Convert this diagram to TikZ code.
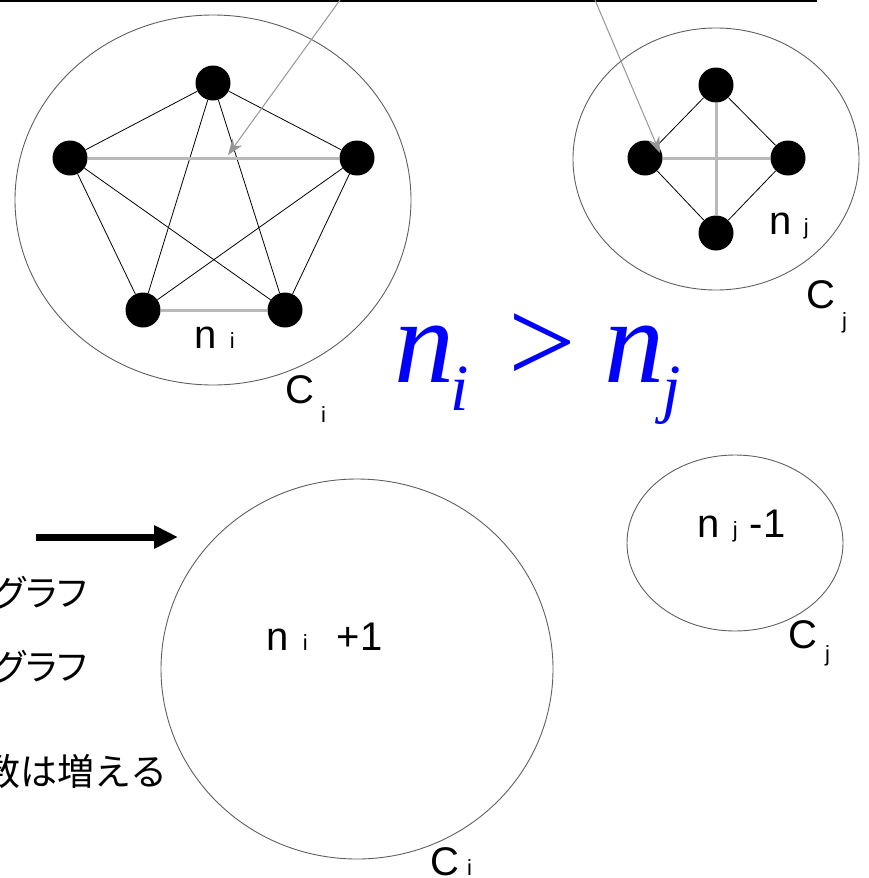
\documentclass[tikz,border=0pt]{standalone}
\usepackage{fontspec}
\setmainfont{Liberation Sans}
\newfontfamily\tms{Liberation Serif}
\newfontfamily\jp{Noto Sans CJK JP}[RawFeature=+palt]
\newfontfamily\jpm{Noto Sans CJK JP}
\usetikzlibrary{arrows.meta,shapes.geometric}
\definecolor{edgr}{RGB}{185,185,185}
\definecolor{clr}{RGB}{95,95,95}
\definecolor{ptr}{RGB}{150,150,150}
\definecolor{eqc}{RGB}{0,0,255}
\newcommand{\subl}[1]{{\fontsize{22}{22}\selectfont #1}}
\newcommand{\subb}[1]{{\fontsize{66}{66}\selectfont #1}}
\tikzset{
  vtx/.style={circle,fill=black,minimum size=35pt,inner sep=0},
  clu/.style={ellipse,draw=clr,line width=0.9pt,inner sep=0},
  edg/.style={draw=black,line width=0.8pt},
  hedg/.style={draw=edgr,line width=3pt},
  lbl/.style={inner sep=0,anchor=base west,font=\fontsize{40}{40}\selectfont},
  jtx/.style={inner sep=0,anchor=base east,font=\jp\fontsize{36}{36}\selectfont},
  ptr/.style={-{Stealth[length=16pt,width=12pt]},draw=ptr,line width=1pt},
  mv/.style={-{Triangle[length=24pt,width=22pt]},line width=7pt},
}
\begin{document}
\begin{tikzpicture}[x=1pt,y=-1pt]
  \useasboundingbox (0,0) rectangle (869,878);
  \clip (0,0) rectangle (869,878);
  % clusters
  \node[clu,minimum width=396pt,minimum height=370pt] (Ci) at (213,200) {};
  \node[clu,minimum width=286pt,minimum height=262pt] (Cj) at (716,159) {};
  \node[clu,minimum width=392pt,minimum height=380pt] (Ci2) at (357,669) {};
  \node[clu,minimum width=216pt,minimum height=176pt] (Cj2) at (735,543) {};
  % left graph
  \node[vtx] (a1) at (213,83) {};
  \node[vtx] (a2) at (70,158) {};
  \node[vtx] (a3) at (357,158) {};
  \node[vtx] (a4) at (143,310) {};
  \node[vtx] (a5) at (285,310) {};
  \draw[edg] (a1) -- (a2);
  \draw[edg] (a1) -- (a3);
  \draw[edg] (a1) -- (a4);
  \draw[edg] (a1) -- (a5);
  \draw[edg] (a2) -- (a4);
  \draw[edg] (a2) -- (a5);
  \draw[edg] (a3) -- (a4);
  \draw[edg] (a3) -- (a5);
  \draw[hedg] (a2) -- (a3);
  \draw[hedg] (a4) -- (a5);
  % right graph
  \node[vtx] (b1) at (716,85) {};
  \node[vtx] (b2) at (645,158) {};
  \node[vtx] (b3) at (788,158) {};
  \node[vtx] (b4) at (716,233) {};
  \draw[edg] (b1) -- (b2);
  \draw[edg] (b1) -- (b3);
  \draw[edg] (b2) -- (b4);
  \draw[edg] (b3) -- (b4);
  \draw[hedg] (b2) -- (b3);
  \draw[hedg] (b1) -- (b4);
  % top rule and pointers
  \coordinate (t0) at (0,1);
  \coordinate (t1) at (817,1);
  \draw[line width=1.6pt] (t0) -- (t1);
  \coordinate (p1s) at (340,0);
  \coordinate (p1e) at (228,155);
  \coordinate (p2s) at (595,0);
  \coordinate (p2e) at (660,153);
  \draw[ptr] (p1s) -- (p1e);
  \draw[ptr] (p2s) -- (p2e);
  % labels
  \node[lbl] (ni) at (194.5,348) {n\hspace{13pt}\subl{i}};
  \node[lbl] (ci) at (285,403) {C\hspace{7pt}\raisebox{-19pt}{\subl{i}}};
  \node[lbl] (nj) at (769.5,234) {n\hspace{12pt}\subl{j}};
  \node[lbl] (cj) at (806,308) {C\hspace{7pt}\raisebox{-20pt}{\subl{j}}};
  \node[lbl] (ni2) at (266.5,650) {n\hspace{14pt}\subl{i}\hspace{29pt}+1};
  \node[lbl] (nj2) at (697.5,537) {n\hspace{13pt}\subl{j}\hspace{12pt}-1};
  \node[lbl] (cj2) at (788,648) {C\hspace{8pt}\raisebox{-13pt}{\subl{j}}};
  \node[lbl] (ci2) at (430,875) {C\hspace{8pt}\subl{i}};
  \node[inner sep=0,anchor=base west,text=eqc,font=\tms\fontsize{120}{120}\selectfont] (ineq) at (394,382)
    {\itshape n\hspace{-4pt}\raisebox{-28pt}{\subb{i}}\hspace{40pt}\upshape >\hspace{28pt}\itshape n\hspace{-2pt}\raisebox{-28pt}{\subb{j}}};
  % move arrow and side text
  \coordinate (mvs) at (36,537);
  \coordinate (mve) at (178,537);
  \draw[mv] (mvs) -- (mve);
  \node[jtx] (g1) at (87,606) {グラフ};
  \node[jtx] (g2) at (87,680) {グラフ};
  \node[jtx,font=\jpm\fontsize{37}{37}\selectfont] (g3) at (168,785) {数は増える};
\end{tikzpicture}
\end{document}
